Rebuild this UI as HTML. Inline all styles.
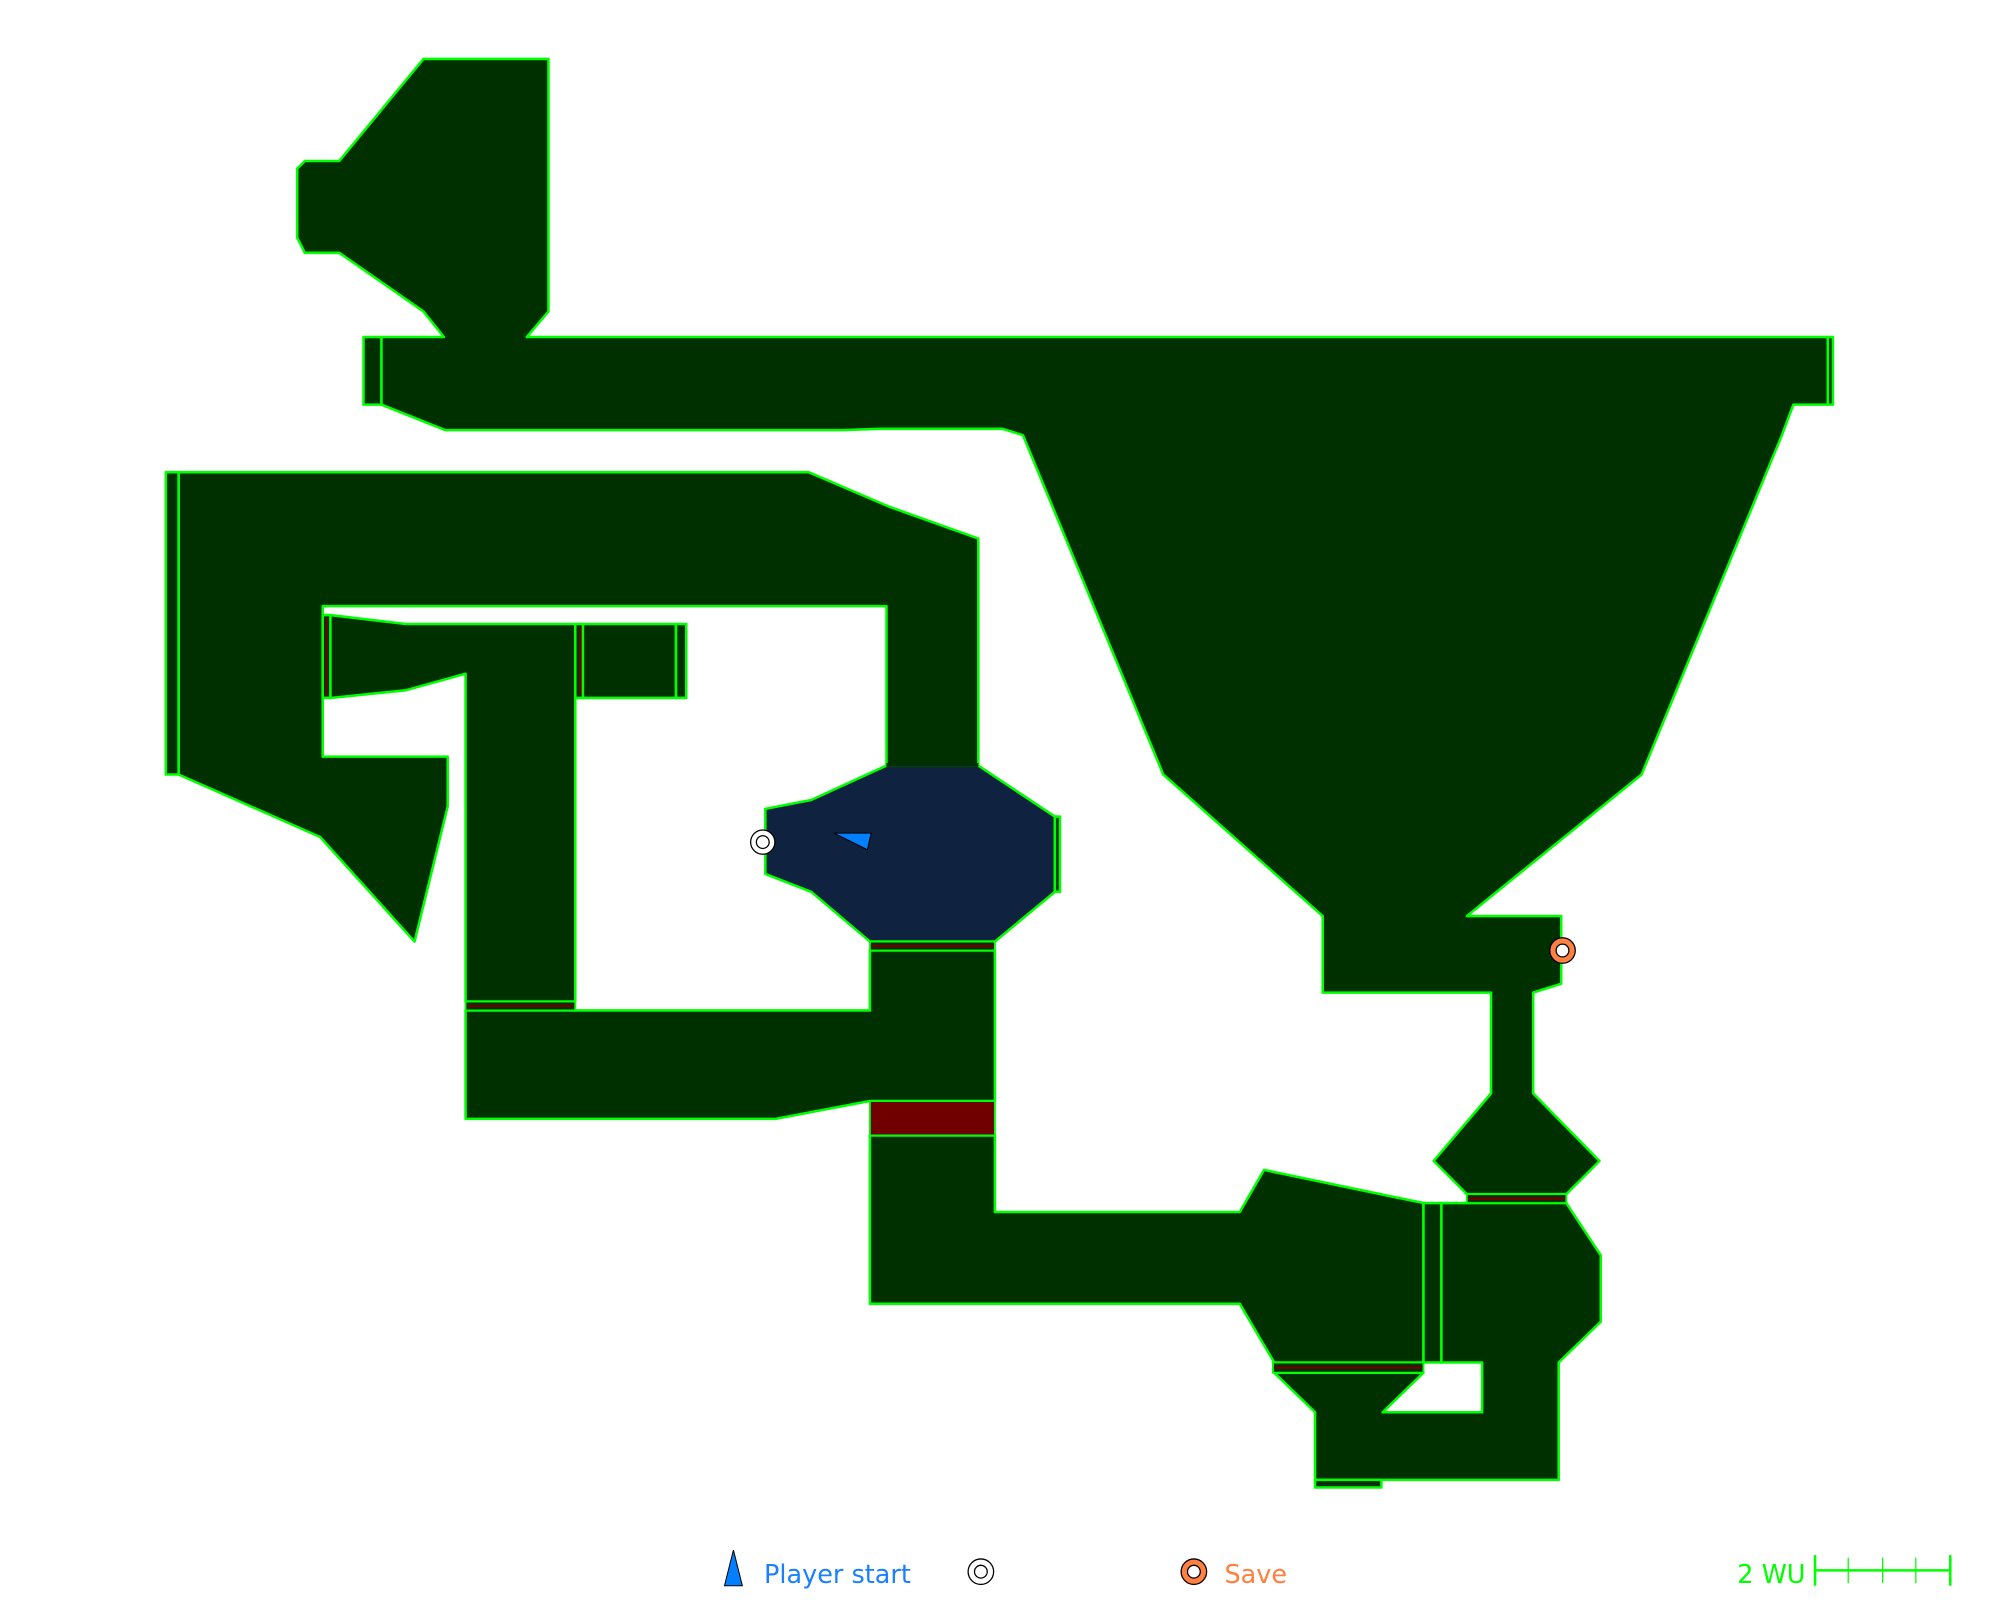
<!DOCTYPE html>
<html><head><style>html,body{margin:0;padding:0;background:#fff}svg{display:block}</style></head><body>
<svg width="2000" height="1600" viewBox="0 0 1568 1254" xmlns="http://www.w3.org/2000/svg">
<g fill="#003000" stroke="#00ff00" stroke-width="2" stroke-linejoin="round">
<polygon points="299,264 348,264 332,244 266,198 239,198 233,186 233,132 239,126 266,126 332,46 430,46 430,244 413,264 1433,264 1433,317 1406,317 1397,341 1287,607 1150,718 1224,718 1224,771 1202,778 1202,857 1254,910 1228,936 1150,936 1124,910 1169,857 1169,778 1037,778 1037,718 912,607 802,341 786,336 690,336 660,337 349,337 299,317"/>
<rect x="285" y="264" width="14" height="53"/>
<rect x="1433" y="264" width="4" height="53"/>
<polygon points="140,370 634,370 697,397 767,422 767,600 695,600 695,475 253,475 253,593 351,593 351,632 325,738 251,656 140,607"/>
<rect x="130" y="370" width="10" height="237"/>
<polygon points="259,482 318,489 530,489 530,547 451,547 451,785 365,785 365,528 318,541 259,547"/>
<rect x="253" y="482" width="6" height="65"/>
<rect x="451" y="489" width="6" height="58"/>
<rect x="530" y="489" width="8" height="58"/>
<polygon points="682,745 780,745 780,863 682,863 608,877 365,877 365,792 682,792"/>
<polygon points="682,890 780,890 780,950 972,950 991,917 1116,943 1116,1068 999,1068 972,1022 682,1022"/>
<polygon points="1130,943 1228,943 1255,984 1255,1036 1222,1068 1222,1160 1031,1160 1031,1107 999,1076 1116,1076 1084,1107 1162,1107 1162,1068 1130,1068"/>
<rect x="1116" y="943" width="14" height="125"/>
<rect x="1031" y="1160" width="52" height="6"/>
<polygon fill="#0f2340" points="695,600 767,600 827,640 827,699 780,738 682,738 636,699 600,685 600,634 636,627"/>
<rect x="827" y="640" width="4" height="59"/>
<rect x="695" y="598" width="72" height="3" stroke="none"/>
</g>
<g fill="#003000" stroke="#00ff00" stroke-width="1.5">
<rect x="682" y="738" width="98" height="7"/>
<rect x="365" y="785" width="86" height="7"/>
<rect x="998" y="1068" width="118" height="8"/>
<rect x="1150" y="936" width="78" height="7"/>
<rect x="682" y="863" width="98" height="27" fill="#700000"/>
</g>
<g stroke="#700000" stroke-width="2">
<line x1="683" y1="741.5" x2="779" y2="741.5"/>
<line x1="366" y1="788.5" x2="450" y2="788.5"/>
<line x1="999" y1="1072" x2="1115" y2="1072"/>
<line x1="1151" y1="939.5" x2="1227" y2="939.5"/>
<line x1="256" y1="484" x2="256" y2="545"/>
<line x1="455" y1="491" x2="455" y2="545"/>
</g>
<circle cx="598" cy="660" r="9.5" fill="#fff" stroke="#000" stroke-width="1"/>
<circle cx="598" cy="660" r="5" fill="#fff" stroke="#000" stroke-width="1"/>
<circle cx="1225" cy="745" r="10" fill="#ff8040" stroke="#000" stroke-width="1"/>
<circle cx="1225" cy="745" r="5" fill="#fff" stroke="#000" stroke-width="1"/>
<polygon points="654,653 683,653 680,666" fill="#0080ff" stroke="#000" stroke-width="0.8"/>
<polygon points="575,1215 568,1243 582,1243" fill="#0080ff" stroke="#000" stroke-width="0.8"/>
<text x="599" y="1241" font-family="DejaVu Sans, sans-serif" font-size="20" fill="#1a80ff">Player start</text>
<circle cx="769" cy="1232" r="10" fill="#fff" stroke="#000" stroke-width="1"/>
<circle cx="769" cy="1232" r="5" fill="#fff" stroke="#000" stroke-width="1"/>
<circle cx="936" cy="1232" r="10" fill="#ff8040" stroke="#000" stroke-width="1"/>
<circle cx="936" cy="1232" r="5" fill="#fff" stroke="#000" stroke-width="1"/>
<text x="960" y="1241" font-family="DejaVu Sans, sans-serif" font-size="20" fill="#ff8040">Save</text>
<text x="1362" y="1241" font-family="DejaVu Sans, sans-serif" font-size="20" fill="#00ff00">2 WU</text>
<g stroke="#00ff00" stroke-width="2">
<line x1="1423" y1="1231" x2="1529" y2="1231"/>
<line x1="1423" y1="1219" x2="1423" y2="1243"/>
<line x1="1529" y1="1219" x2="1529" y2="1243"/>
<line x1="1449" y1="1221" x2="1449" y2="1241" stroke-width="1"/>
<line x1="1476" y1="1221" x2="1476" y2="1241" stroke-width="1"/>
<line x1="1502" y1="1221" x2="1502" y2="1241" stroke-width="1"/>
</g>
</svg>
</body></html>
